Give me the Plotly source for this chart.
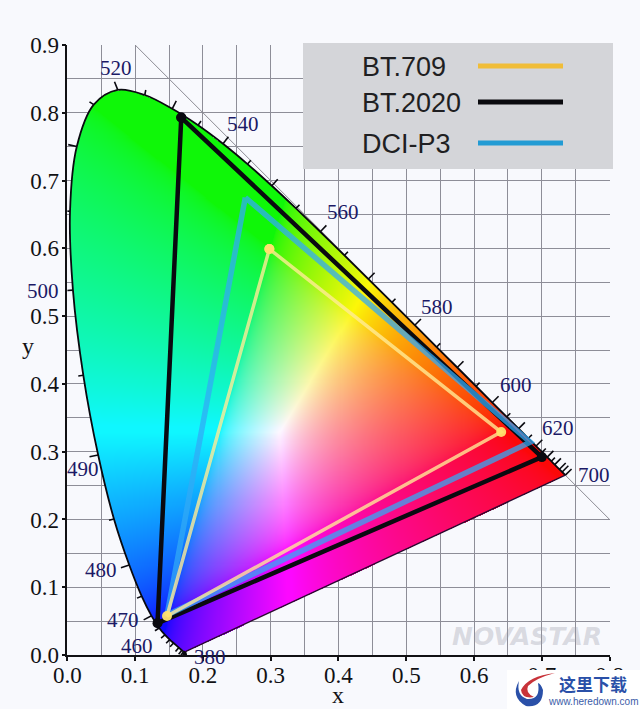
import numpy as np
import plotly.graph_objects as go

# spectral locus
wl = [380, 390, 400, 410, 420, 430, 440, 450, 455, 460, 465, 470, 475, 480, 485, 490, 495, 500, 505, 510,
      515, 520, 525, 530, 535, 540, 545, 550, 555, 560, 565, 570, 575, 580, 585, 590, 595, 600, 605, 610,
      615, 620, 625, 630, 635, 640, 650, 660, 700]
locus_x = [.1741, .1738, .1733, .1726, .1714, .1689, .1644, .1566, .1510, .1440, .1355, .1241, .1096, .0913,
           .0687, .0454, .0235, .0082, .0039, .0139, .0389, .0743, .1142, .1547, .1929, .2296, .2658, .3016,
           .3373, .3731, .4087, .4441, .4788, .5125, .5448, .5752, .6029, .6270, .6482, .6658, .6801, .6915,
           .7006, .7079, .7140, .7190, .7260, .7300, .7347]
locus_y = [.0050, .0049, .0048, .0048, .0051, .0069, .0109, .0177, .0227, .0297, .0399, .0578, .0868, .1327,
           .2007, .2950, .4127, .5384, .6548, .7502, .8120, .8338, .8262, .8059, .7816, .7543, .7243, .6923,
           .6589, .6245, .5896, .5547, .5202, .4866, .4544, .4242, .3965, .3725, .3514, .3340, .3197, .3083,
           .2993, .2920, .2859, .2809, .2740, .2700, .2653]

label_nm = ["520", "540", "560", "580", "600", "620", "700", "500", "490", "480", "470", "460", "380"]
label_x = [.0715, .260, .406, .545, .661, .724, .776, -.036, .023, .050, .083, .103, .211]
label_y = [.866, .783, .653, .513, .398, .335, .265, .537, .274, .125, .051, .013, -.003]

bt709_x = [.298, .640, .147, .298]
bt709_y = [.599, .329, .0575, .599]
bt2020_x = [.168, .700, .133, .168]
bt2020_y = [.793, .292, .047, .793]
p3_x = [.2625, .683, .147, .2625]
p3_y = [.675, .314, .059, .675]

gamut_names = ["BT.709", "BT.2020", "DCI-P3"]
swatch_colors = ["#f0bd38", "#0a0a0e", "#229bd4"]

x_ticks = [0, .1, .2, .3, .4, .5, .6, .7, .8]
y_ticks = [0, .1, .2, .3, .4, .5, .6, .7, .8, .9]

BG = "#f8f9fd"
SERIF = "Liberation Serif"
SANS = "Liberation Sans"
L, R, T, B = 67, 610, 45, 655
X_MAX, Y_MAX = .8, .9


def px(x, y):
    # page pixels to paper coordinates
    return (x - L) / (R - L), (B - y) / (B - T)


def smooth_outline(n=8):
    # catmull-rom through the locus, only for clipping the colour field to the drawn curve
    lx, ly = np.array(locus_x), np.array(locus_y)
    out_x, out_y = [], []
    for i in range(len(lx) - 1):
        i0, i2, i3 = max(i - 1, 0), i + 1, min(i + 2, len(lx) - 1)
        for t in np.linspace(0, 1, n, endpoint=False):
            for arr, out in ((lx, out_x), (ly, out_y)):
                p0, p1, p2, p3 = arr[i0], arr[i], arr[i2], arr[i3]
                out.append(.5 * (2 * p1 + (p2 - p0) * t + (2 * p0 - 5 * p1 + 4 * p2 - p3) * t ** 2
                                 + (3 * p1 - p0 - 3 * p2 + p3) * t ** 3))
    out_x.append(lx[-1])
    out_y.append(ly[-1])
    return np.array(out_x), np.array(out_y)


def chromaticity_image(step=0.0015):
    xs = np.arange(0, X_MAX, step)
    ys = np.arange(0, Y_MAX, step)
    gx, gy = np.meshgrid(xs, ys)
    gy_safe = np.maximum(gy, 1e-4)
    X = gx / gy_safe
    Z = (1 - gx - gy) / gy_safe
    r = 3.2406 * X - 1.5372 - 0.4986 * Z
    g = -0.9689 * X + 1.8758 + 0.0415 * Z
    b = 0.0557 * X - 0.2040 + 1.0570 * Z
    rgb = np.clip(np.stack([r, g, b], axis=-1), 0, None)
    rgb = rgb / np.maximum(rgb.max(axis=-1, keepdims=True), 1e-6)
    rgb = rgb ** (1 / 1.8)
    # reference green and red are a bit muted
    rgb = rgb * np.array([.93, .94, 1.0]) + np.array([.06, .03, .03])
    rgb = np.clip(rgb, 0, 1)
    ox, oy = smooth_outline()
    inside = np.zeros(gx.shape, dtype=bool)
    j = len(ox) - 1
    for i in range(len(ox)):
        with np.errstate(divide="ignore", invalid="ignore"):
            cross = ((oy[i] > gy) != (oy[j] > gy)) & (
                gx < (ox[j] - ox[i]) * (gy - oy[i]) / (oy[j] - oy[i]) + ox[i])
        inside ^= cross
        j = i
    out = np.zeros(gx.shape + (4,))
    out[..., :3] = np.round(rgb * 255)
    out[..., 3] = inside.astype(float)
    return out, step


def tick_segments():
    lx, ly = np.array(locus_x), np.array(locus_y)
    seg_x, seg_y = [], []
    n = len(wl)
    for i, nm in enumerate(wl):
        a, b = max(i - 2, 0), min(i + 2, n - 1)
        tx, ty = lx[b] - lx[a], ly[b] - ly[a]
        nx, ny = ty, -tx
        norm = np.hypot(nx, ny)
        nx, ny = nx / norm, ny / norm
        if nx * (lx[i] - .33) + ny * (ly[i] - .33) < 0:
            nx, ny = -nx, -ny
        size = .013 if nm % 10 == 0 and nm >= 470 else .0075
        seg_x += [lx[i], lx[i] + nx * size, None]
        seg_y += [ly[i], ly[i] + ny * size, None]
    return seg_x, seg_y


img, step = chromaticity_image()

fig = go.Figure()
fig.add_trace(go.Scatter(x=[.1, .8], y=[.9, .2], mode="lines", line=dict(color="#8b8b93", width=1)))
fig.add_trace(go.Image(z=img, x0=0, dx=step, y0=0, dy=step, colormodel="rgba", hoverinfo="skip"))

tx, ty = tick_segments()
fig.add_trace(go.Scatter(x=tx, y=ty, mode="lines", line=dict(color="#0a0a10", width=1.6), cliponaxis=False))
fig.add_trace(go.Scatter(x=locus_x, y=locus_y, mode="lines", cliponaxis=False,
                         line=dict(color="#0a0a10", width=1.8, shape="spline", smoothing=1)))
fig.add_trace(go.Scatter(x=[locus_x[0], locus_x[-1]], y=[locus_y[0], locus_y[-1]], mode="lines", cliponaxis=False,
                         line=dict(color="#2a0a30", width=1.4)))

fig.add_trace(go.Scatter(x=bt2020_x, y=bt2020_y, mode="lines+markers", name=gamut_names[1],
                         line=dict(color="#0a0a10", width=4.5), marker=dict(color="#0a0a10", size=10)))
fig.add_trace(go.Scatter(x=p3_x, y=p3_y, mode="lines", name=gamut_names[2],
                         line=dict(color="rgba(50,170,245,0.74)", width=5.5)))
fig.add_trace(go.Scatter(x=bt709_x, y=bt709_y, mode="lines+markers", name=gamut_names[0],
                         line=dict(color="rgba(255,235,150,0.8)", width=3.5),
                         marker=dict(color="rgba(255,225,110,0.95)", size=10)))

# wavelength labels in paper coords, data-ref ones past the axes get dropped
for name, lx_, ly_ in zip(label_nm, label_x, label_y):
    fig.add_annotation(xref="paper", yref="paper", x=lx_ / X_MAX, y=ly_ / Y_MAX, text=name, showarrow=False,
                       xanchor="center", yanchor="middle", font=dict(family=SERIF, size=21, color="#1c1a66"))

# legend panel, drawn by hand because the text sits left of the line
shapes = []
x0, y0 = px(303, 43)
x1, y1 = px(613, 169)
shapes.append(dict(type="rect", xref="paper", yref="paper", x0=x0, y0=y0, x1=x1, y1=y1,
                   fillcolor="#d4d5d9", line_width=0, layer="above"))
for name, color, py in zip(gamut_names, swatch_colors, [66, 102, 143]):
    sx0, sy = px(478, py)
    sx1, _ = px(563, py)
    shapes.append(dict(type="line", xref="paper", yref="paper", x0=sx0, x1=sx1, y0=sy, y1=sy,
                       line=dict(color=color, width=5), layer="above"))
    tx0, ty0 = px(360, py + 1)
    fig.add_annotation(xref="paper", yref="paper", x=tx0, y=ty0, xanchor="left", yanchor="middle", text=name,
                       showarrow=False, font=dict(family=SANS, size=27, color="#1f1f22"))

# download-site stamp in the corner
x0, y0 = px(507, 670)
x1, y1 = px(640, 709)
shapes.append(dict(type="rect", xref="paper", yref="paper", x0=x0, y0=y0, x1=x1, y1=y1,
                   fillcolor="white", line_width=0, layer="above"))


def logo_path(points):
    out = []
    for cmd, *xy in points:
        vals = []
        for i in range(0, len(xy), 2):
            vals.extend(px(xy[i], xy[i + 1]))
        out.append(cmd + " " + " ".join(f"{v:.4f}" for v in vals))
    return " ".join(out) + " Z"


shapes.append(dict(type="path", xref="paper", yref="paper", layer="above", line_width=0, fillcolor="#2a50a8",
                   path=logo_path([("M", 519, 681), ("Q", 510, 697, 526, 706), ("Q", 543, 708, 543, 690),
                                   ("Q", 541, 684, 538, 683), ("Q", 541, 700, 527, 699), ("Q", 516, 695, 519, 681)])))
shapes.append(dict(type="path", xref="paper", yref="paper", layer="above", line_width=0, fillcolor="#c8333a",
                   path=logo_path([("M", 555, 673), ("Q", 528, 676, 521, 690), ("Q", 522, 699, 534, 697),
                                   ("Q", 525, 693, 528, 686), ("Q", 536, 678, 555, 673)])))
fig.update_layout(shapes=shapes)

sx, sy = px(593, 683)
fig.add_annotation(xref="paper", yref="paper", x=sx, y=sy, text="<b>这里下载</b>", showarrow=False,
                   xanchor="center", yanchor="middle",
                   font=dict(family="Noto Sans CJK SC", size=17, color="#2a50a8"))
sx, sy = px(593, 701)
fig.add_annotation(xref="paper", yref="paper", x=sx, y=sy, text="www.heredown.com", showarrow=False,
                   xanchor="center", yanchor="middle", font=dict(family=SANS, size=10, color="#3b5ca8"))
sx, sy = px(527, 636)
fig.add_annotation(xref="paper", yref="paper", x=sx, y=sy, text="<b><i>NOVASTAR</i></b>", showarrow=False,
                   xanchor="center", yanchor="middle",
                   font=dict(family="DejaVu Sans", size=25, color="rgba(150,152,165,0.32)"))

axis_font = dict(family=SERIF, size=23, color="#111114")
title_font = dict(family=SERIF, size=24, color="#111114")
# axis titles as annotations, title standoff is ignored with fixed margins
sx, sy = px(338, 695)
fig.add_annotation(xref="paper", yref="paper", x=sx, y=sy, text="x", showarrow=False,
                   xanchor="center", yanchor="middle", font=title_font)
sx, sy = px(28, 346)
fig.add_annotation(xref="paper", yref="paper", x=sx, y=sy, text="y", showarrow=False,
                   xanchor="center", yanchor="middle", font=title_font)

grid = dict(showgrid=True, gridcolor="#8e8e98", gridwidth=1, zeroline=False, showline=True, automargin=False,
            linecolor="#111114", linewidth=1.6, ticks="outside", ticklen=4, tickwidth=1.5, tickcolor="#111114",
            tickfont=axis_font, tickformat=".1f")
minor = dict(dtick=.05, showgrid=True, gridcolor="#8e8e98", gridwidth=1)
fig.update_xaxes(range=[0, X_MAX], tickvals=x_ticks, minor=minor, ticklabelstandoff=-5, **grid)
fig.update_yaxes(range=[0, Y_MAX], tickvals=y_ticks, minor=minor, ticklabelstandoff=-2, **grid)

fig.update_layout(width=640, height=709, margin=dict(l=L, r=640 - R, t=T, b=709 - B), showlegend=False,
                  paper_bgcolor=BG, plot_bgcolor=BG)

fig.write_html("out.html", config=dict(displayModeBar=False),
               post_script="document.body.style.margin='0';document.body.style.background='%s';" % BG)
